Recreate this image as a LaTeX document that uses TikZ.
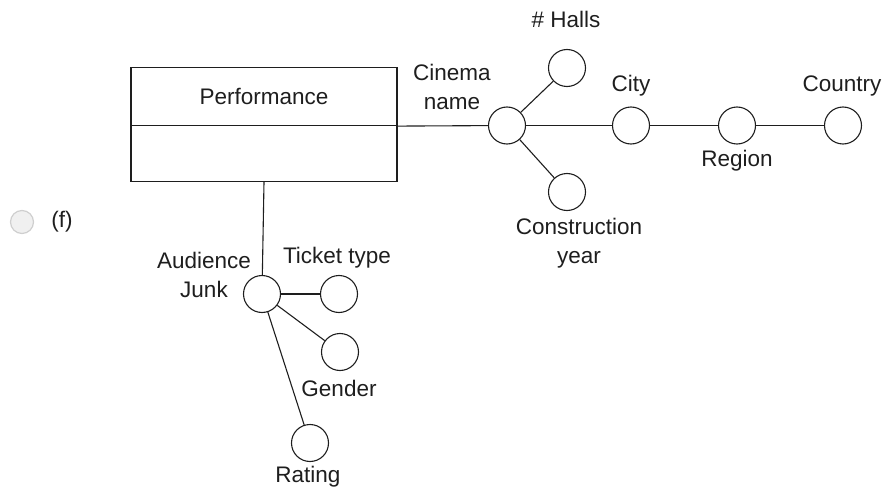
\documentclass[tikz,border=0pt]{standalone}
\usepackage{fontspec}
\setmainfont{Liberation Sans}
\definecolor{ink}{HTML}{1E1E1E}
\definecolor{radiofill}{HTML}{F0F0F0}
\definecolor{radiodraw}{HTML}{CFCFCF}
\begin{document}
\begin{tikzpicture}[x=1pt,y=-1pt,
  every node/.style={text=ink, font=\fontsize{22.5}{29}\selectfont},
  attr/.style={circle, draw=ink, line width=1.1pt, minimum size=37pt, inner sep=0pt},
  lbl/.style={inner sep=0pt, align=center},
  link/.style={draw=ink, line width=1.1pt},
  part/.style={draw=ink, line width=1.2pt, minimum width=266pt, inner sep=0pt}]
\useasboundingbox (0,0) rectangle (887,495);

% option marker
\node[circle, fill=radiofill, draw=radiodraw, line width=1.2pt, minimum size=23pt, inner sep=0pt] (radio) at (22,222) {};
\node[lbl] (optf) at (62,222) {(f)};

% fact box
\node[part, minimum height=58pt] (perf) at (264,96.5) {Performance};
\node[part, minimum height=56pt] (perfb) at (264,153.5) {};

% cinema hierarchy
\node[attr] (cin) at (507,125.5) {};
\node[attr] (halls) at (567,68) {};
\node[attr] (cons) at (567,192) {};
\node[attr] (city) at (631,125.5) {};
\node[attr] (reg) at (737,125.5) {};
\node[attr] (ctry) at (843,125.5) {};

\node[lbl] (cinl) at (452,87) {Cinema\\name};
\node[lbl] (hallsl) at (566,19) {\# Halls};
\node[lbl] (cityl) at (631,86) {City};
\node[lbl] (regl) at (737,161) {Region};
\node[lbl] (ctryl) at (842,86) {Country};
\node[lbl] (consl) at (579,243) {Construction\\year};

\draw[link] (perf.south east) -- (cin);
\draw[link] (cin) -- (halls);
\draw[link] (cin) -- (cons);
\draw[link] (cin) -- (city) -- (reg) -- (ctry);

% audience hierarchy
\node[attr] (aud) at (262,294) {};
\node[attr] (tick) at (339,294) {};
\node[attr] (gend) at (340,352) {};
\node[attr] (rate) at (310,443) {};

\node[lbl] (audl) at (204,275) {Audience\\Junk};
\node[lbl] (tickl) at (337,258) {Ticket type};
\node[lbl] (gendl) at (339,388) {Gender};
\node[lbl] (ratel) at (308,477) {Rating};

\draw[link] (perfb.south) -- (aud);
\draw[link] (aud) -- (tick);
\draw[link] (aud) -- (gend);
\draw[link] (aud) -- (rate);
\end{tikzpicture}
\end{document}
